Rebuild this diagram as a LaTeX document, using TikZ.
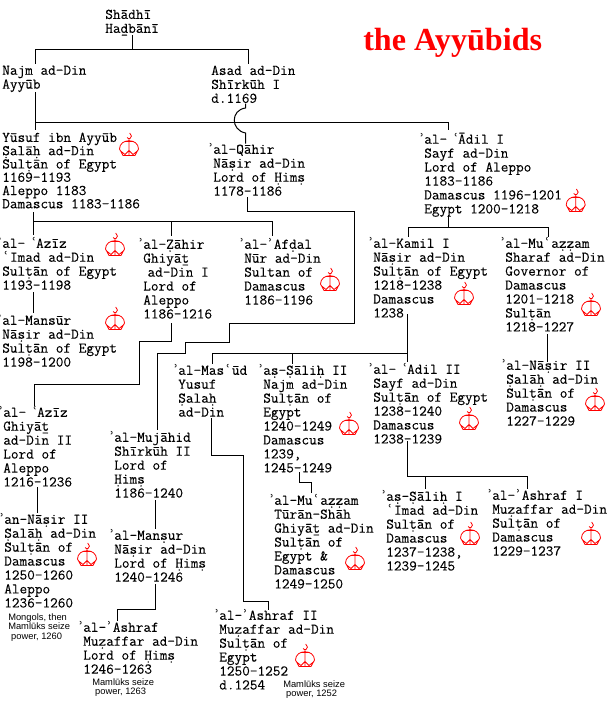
\documentclass[tikz,border=0pt]{standalone}
\usepackage{fontspec}
\newfontfamily\modf{DejaVu Sans}
\newfontfamily\titlef{Liberation Serif}
\newfontfamily\notef{Liberation Sans}
\newfontfamily\lmm[FakeBold=0.12]{Latin Modern Mono}
\newcommand\ha{\llap{{\modf\fontsize{10}{10}\selectfont ʾ}}}
\newcommand\hb{\makebox[.85\cellw][c]{\modf\fontsize{10}{10}\selectfont ʾ}}
\newcommand\ay{\makebox[\cellw][c]{\modf\fontsize{10}{10}\selectfont ʿ}}
\newcommand\aY{\makebox[1.4\cellw][r]{\modf\fontsize{10}{10}\selectfont ʿ}}
\newlength\cellw \setlength\cellw{5.85pt}
\tikzset{
  x=.75pt,y=-.75pt,
  lbl/.style={anchor=north west,inner sep=0pt,yshift=7.2pt,align=left,
    font=\lmm\fontsize{11.14}{10.45}\selectfont,
    execute at begin node={\rule{0pt}{10pt}},
    execute at end node={\rule[-4pt]{0pt}{4pt}}},
  tight/.style={font=\lmm\fontsize{11.14}{9.95}\selectfont},
  note/.style={anchor=north west,inner sep=0pt,yshift=5pt,align=left,
    font=\notef\fontsize{7}{7.1}\selectfont,
    execute at begin node={\rule{0pt}{7pt}}},
  conn/.style={line width=.75pt,black,line cap=rect},
  crown/.pic={
    \draw[red,line width=.6pt]
      (.7,0) .. controls (3,1.5) and (3,5) .. (1,5.5) .. controls (0,5.7) and (-1.5,5.5) .. (-2,4.5)
      (0,5.5) -- (0,22) (-4.5,8.5) -- (4.5,8.5)
      (-9.5,16) .. controls (-9.5,5) and (9.5,5) .. (9.5,16) -- (6,22.5) -- (-6,22.5) -- cycle
      (-9,17.5) -- (-4,21.5) -- (0,17.5) -- (4,21.5) -- (9,17.5);
  }
}
\begin{document}
\begin{tikzpicture}
\useasboundingbox (0,0) rectangle (615,707);
\fill[white] (0,0) rectangle (615,707);
% title
\node[anchor=base west,inner sep=0pt,text=red,font=\titlef\bfseries\fontsize{24.1}{26}\selectfont] (title) at (363,50) {the Ayyūbids};
% people
\node[lbl] (shadhi) at (105,19) {Shādhī\\Ha\b{d}bānī};
\node[lbl] (najm) at (2,75) {Najm ad-Din\\Ayyūb};
\node[lbl] (asad) at (211,75) {Asad ad-Din\\Shīrkūh I\\d.1169};
\node[lbl,tight] (yusuf) at (2,142) {Yūsuf ibn Ayyūb\\\d{S}alā\d{h} ad-Din\\Sul\d{t}ān of Egypt\\1169–1193\\Aleppo 1183\\Damascus 1183–1186};
\node[lbl] (qahir) at (213,153) {\ha al-Qāhir\\Nā\d{s}ir ad-Din\\Lord of \d{H}im\d{s}\\1178–1186};
\node[lbl] (adil) at (424,142) {\ha al-\aY Ādil I\\Sayf ad-Din\\Lord of Aleppo\\1183–1186\\Damascus 1196–1201\\Egypt 1200–1218};
\node[lbl] (aziz) at (2,247) {\ha al-\aY Azīz\\\ay Imad ad-Din\\Sul\d{t}ān of Egypt\\1193–1198};
\node[lbl] (zahir) at (143,248) {\ha al-\d{Z}āhir\\Ghiyā\b{t}\\\hspace*{3.2pt}ad-Din I\\Lord of\\Aleppo\\1186–1216};
\node[lbl] (afdal) at (244,248) {\ha al-\hb Af\d{d}al\\Nūr ad-Din\\Sultan of\\Damascus\\1186–1196};
\node[lbl] (mansur) at (2,324) {\ha al-Mansūr\\Nā\d{s}ir ad-Din\\Sul\d{t}ān of Egypt\\1198–1200};
\node[lbl] (kamil) at (373,247) {\ha al-Kamil I\\Nā\d{s}ir ad-Din\\Sul\d{t}ān of Egypt\\1218–1238\\Damascus\\1238};
\node[lbl] (muazzam) at (505,247) {\ha al-Mu\ay a\d{z}\d{z}am\\Sharaf ad-Din\\Governor of\\Damascus\\1201–1218\\Sul\d{t}ān\\1218–1227};
\node[lbl] (nasirB) at (506,369) {\ha al-Nā\d{s}ir II\\\d{S}alā\d{h} ad-Din\\Sul\d{t}ān of\\Damascus\\1227–1229};
\node[lbl] (adilB) at (373,373) {\ha al-\aY Adil II\\Sayf ad-Din\\Sul\d{t}ān of Egypt\\1238–1240\\Damascus\\1238–1239};
\node[lbl] (salihB) at (263,374) {\ha a\d{s}-\d{S}āli\d{h} II\\Najm ad-Din\\Sul\d{t}ān of\\Egypt\\1240–1249\\Damascus\\1239,\\1245–1249};
\node[lbl] (masud) at (178,374) {\ha al-Mas\ay ūd\\Yusuf\\\d{S}ala\d{h}\\ad-Din};
\node[lbl] (azizB) at (3,416) {\ha al-\aY Azīz\\Ghiyā\b{t}\\ad-Din II\\Lord of\\Aleppo\\1216–1236};
\node[lbl] (mujahid) at (114,441) {\ha al-Mujāhid\\Shīrkūh II\\Lord of\\\d{H}im\d{s}\\1186–1240};
\node[lbl] (annasir) at (4,523) {\ha an-Nā\d{s}ir II\\\d{S}alā\d{h} ad-Din\\Sul\d{t}ān of\\Damascus\\1250–1260\\Aleppo\\1236–1260};
\node[lbl] (mansurB) at (114,539) {\ha al-Man\d{s}ur\\Nā\d{s}ir ad-Din\\Lord of \d{H}im\d{s}\\1240–1246};
\node[lbl] (ashrafA) at (83,631) {\ha al-\hb Ashraf\\Mu\d{z}affar ad-Din\\Lord of \d{H}im\d{s}\\1246–1263};
\node[lbl] (ashrafB) at (219,619) {\ha al-\hb Ashraf II\\Mu\d{z}affar ad-Din\\Sul\d{t}ān of\\Egypt\\1250–1252\\d.1254};
\node[lbl] (turan) at (274,504) {\ha al-Mu\ay a\d{z}\d{z}am\\Tūrān-Shāh\\Ghiyā\b{t} ad-Din\\Sul\d{t}ān of\\Egypt \&\\Damascus\\1249–1250};
\node[lbl] (salihA) at (386,500) {\ha a\d{s}-\d{S}āli\d{h} I\\\ay Imad ad-Din\\Sul\d{t}ān of\\Damascus\\1237–1238,\\1239–1245};
\node[lbl] (ashrafI) at (492,499) {\ha al-\hb Ashraf I\\Mu\d{z}affar ad-Din\\Sul\d{t}ān of\\Damascus\\1229–1237};
% notes
\node[note] (noteA) at (8,620) {Mongols, then\\Mamlūks seize\\\hspace*{2.2pt}power, 1260};
\node[note] (noteB) at (92,685) {Mamlūks seize\\\hspace*{2.2pt}power, 1263};
\node[note] (noteC) at (283,687) {Mamlūks seize\\\hspace*{2.2pt}power, 1252};
% crowns
\foreach \cx/\cy in {129/133,575.7/189,115/233,115/307,330/268,464/282,591/293,595/388,349/412,469/407,87/543,305/644,355/547,470/522,591/522}
  \pic at (\cx,\cy) {crown};
% connectors
\coordinate (j1) at (132,49);
\draw[conn] ([shift={(27,25.6)}]shadhi.north west) -- (j1);
\draw[conn] ([shift={(33,-2.4)}]najm.north west) |- (j1);
\draw[conn] ([shift={(37,-2.4)}]asad.north west) |- (j1);
\coordinate (j2) at (35,122);
\draw[conn] ([shift={(33,26.6)}]najm.north west) -- ([shift={(33,-3.4)}]yusuf.north west);
\draw[conn] ([shift={(24,-3.4)}]adil.north west) |- (j2);
\draw[conn] ([shift={(34.5,38.6)}]asad.north west) -- ++(0,4) .. controls +(-15,2) and +(-15,-3) .. ++(0,25) -- ([shift={(32.5,-.4)}]qahir.north west);
\coordinate (j3) at (33.5,221);
\draw[conn] ([shift={(31.5,79.6)}]yusuf.north west) -- ([shift={(31.5,-3.4)}]aziz.north west);
\draw[conn] ([shift={(28.5,-3.4)}]zahir.north west) |- (j3);
\draw[conn] ([shift={(28,-3.4)}]afdal.north west) |- (j3);
\draw[conn] ([shift={(34.5,53.6)}]qahir.north west) |- (354,211) |- (229,323) |- (185,342) |- (157,353) -- ([shift={(43,-2.4)}]mujahid.north west);
\coordinate (j4) at (448,227);
\draw[conn] ([shift={(24,82.6)}]adil.north west) -- (j4);
\draw[conn] ([shift={(35,-1.4)}]kamil.north west) |- (j4);
\draw[conn] ([shift={(43,-1.4)}]muazzam.north west) |- (j4);
\coordinate (j5) at (407,353);
\draw[conn] ([shift={(34,76.6)}]kamil.north west) -- ([shift={(34,-2.4)}]adilB.north west);
\draw[conn] ([shift={(34,-1.4)}]masud.north west) |- (j5);
\draw[conn] ([shift={(29,-1.4)}]salihB.north west) |- (j5);
\draw[conn] ([shift={(42,96.6)}]muazzam.north west) -- ([shift={(41,1.6)}]nasirB.north west);
\coordinate (j6) at (407,476);
\draw[conn] ([shift={(34,77.6)}]adilB.north west) -- (j6);
\draw[conn] ([shift={(39,-2.4)}]salihA.north west) |- (j6);
\draw[conn] ([shift={(35,-1.4)}]ashrafI.north west) |- (j6);
\draw[conn] ([shift={(28.5,84.6)}]zahir.north west) |- (139,341) |- (34,384) -- ([shift={(31,-1.4)}]azizB.north west);
\draw[conn] ([shift={(31.5,54.6)}]aziz.north west) -- ([shift={(31.5,-2.4)}]mansur.north west);
\draw[conn] ([shift={(34.5,80.6)}]azizB.north west) -- ([shift={(33.5,-1.4)}]annasir.north west);
\draw[conn] ([shift={(41,68.6)}]mujahid.north west) -- ([shift={(41,-1.4)}]mansurB.north west);
\draw[conn] ([shift={(41,54.6)}]mansurB.north west) |- (117,609) -- ([shift={(34,-1.4)}]ashrafA.north west);
\draw[conn] ([shift={(33,53.6)}]masud.north west) |- (243,455) |- (268,601) -- ([shift={(49,-.4)}]ashrafB.north west);
\draw[conn] ([shift={(36,107.6)}]salihB.north west) |- (311,482) -- ([shift={(37,-2.4)}]turan.north west);
\end{tikzpicture}
\end{document}
